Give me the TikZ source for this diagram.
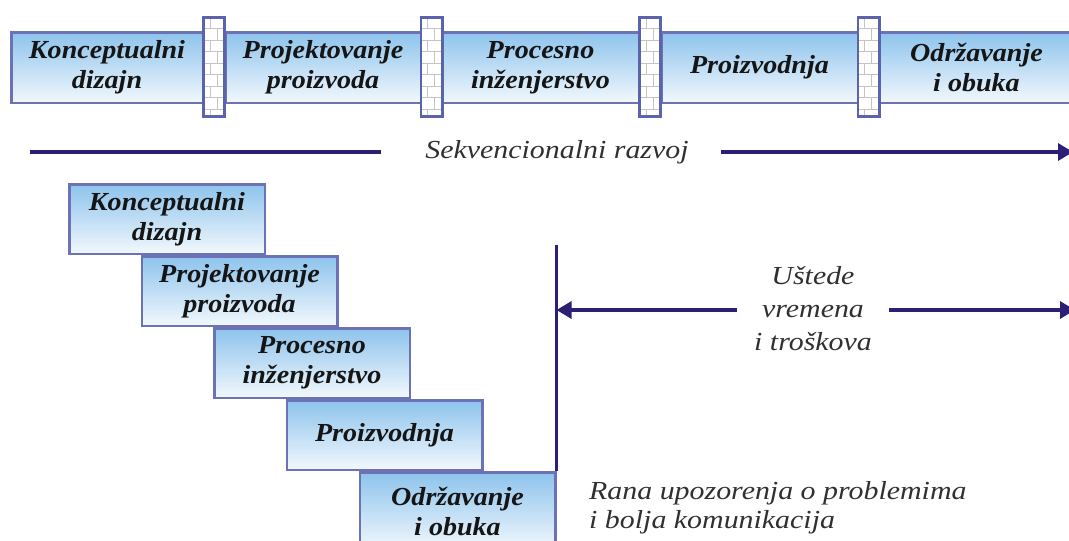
\documentclass[tikz,border=0pt]{standalone}
\usepackage{fontspec}
\setmainfont{Liberation Serif}
\newfontfamily\stagefont[FakeStretch=1.08]{Liberation Serif}
\newfontfamily\notefont[FakeStretch=1.15]{Liberation Serif}
\usetikzlibrary{arrows.meta}

\definecolor{navy}{HTML}{2D1F75}
\definecolor{frame}{HTML}{6C72B6}
\definecolor{skytop}{HTML}{8DC3EC}
\definecolor{skybot}{HTML}{F2F8FD}
\definecolor{brickline}{HTML}{C4C4C4}
\definecolor{brickframe}{HTML}{5B63AC}
\definecolor{ink}{HTML}{151515}
\definecolor{noteink}{HTML}{303030}

\tikzset{
  stage/.style={draw=frame, line width=2.5pt, top color=skytop, bottom color=skybot,
    inner sep=0pt, align=center, text=ink,
    font=\stagefont\bfseries\itshape\fontsize{26}{30}\selectfont},
  note/.style={inner sep=0pt, text=noteink,
    font=\notefont\itshape\fontsize{26}{31}\selectfont},
  navyline/.style={draw=navy, line width=3.2pt},
  tip/.style={-{Triangle[length=15pt,width=17pt]}},
  brick/.style={draw=brickframe, line width=2.6pt, fill=white, inner sep=0pt,
    minimum width=21.4pt, minimum height=99.4pt,
    path picture={
      \foreach \k in {1,...,8}{
        \draw[brickline, line width=0.9pt]
          ([yshift=-\k*11.5pt]path picture bounding box.north west) -- ++(40pt,0);
      }
      \foreach \k in {0,...,8}{
        \pgfmathsetmacro{\off}{mod(\k,2)==0 ? 7 : 14}
        \draw[brickline, line width=0.9pt]
          ([xshift=\off pt, yshift=-\k*11.5pt]path picture bounding box.north west) -- ++(0,11.5);
      }
    }},
}

\begin{document}
\begin{tikzpicture}[x=1pt,y=-1pt]
\useasboundingbox (0,0) rectangle (1069,541);

% sequential chain of stages
\node[stage, minimum width=191.5pt, minimum height=70.5pt] (s1) at (107,67.5) {Konceptualni\\dizajn};
\node[stage, minimum width=195.5pt, minimum height=70.5pt] (s2) at (323,67.5) {Projektovanje\\proizvoda};
\node[stage, minimum width=196.5pt, minimum height=70.5pt] (s3) at (540.5,67.5) {Procesno\\inženjerstvo};
\node[stage, minimum width=196.5pt, minimum height=70.5pt] (s4) at (759.5,67.5) {Proizvodnja};
\node[stage, minimum width=194.5pt, minimum height=70.5pt] (s5) at (976.5,67.5) {Održavanje\\i obuka};

% walls between stages
\node[brick] (w1) at (214,67) {};
\node[brick] (w2) at (431.5,67) {};
\node[brick] (w3) at (650,67) {};
\node[brick] (w4) at (868.5,67) {};

% sequential development arrow
\node[note] (seq) at (557,152) {Sekvencionalni razvoj};
\coordinate (seqL) at (30,152);
\coordinate (seqR) at (1073,152);
\draw[navyline, shorten >=44pt] (seqL) -- (seq.west);
\draw[navyline, tip, shorten <=32pt] (seq.east) -- (seqR);

% overlapping (concurrent) stages
\node[stage, minimum width=195.5pt, minimum height=69.5pt] (c1) at (167,219) {Konceptualni\\dizajn};
\node[stage, minimum width=195.5pt, minimum height=69.5pt] (c2) at (239.5,291) {Projektovanje\\proizvoda};
\node[stage, minimum width=195.5pt, minimum height=69.5pt] (c3) at (312,363) {Procesno\\inženjerstvo};
\node[stage, minimum width=195.5pt, minimum height=69.5pt] (c4) at (384.5,435) {Proizvodnja};
\node[stage, minimum width=195.5pt, minimum height=77.5pt] (c5) at (457.5,511) {Održavanje\\i obuka};

% end of concurrent development
\coordinate (vtop) at (556.5,245);
\draw[navyline] (vtop) -- (c5.north east);

% savings arrows
\node[note, align=center, inner xsep=17pt, font=\notefont\itshape\fontsize{26}{33}\selectfont] (save) at (813,309) {Uštede\\vremena\\i troškova};
\coordinate (saveR) at (1075,310);
\draw[navyline, tip] (save.west |- saveR) -- (vtop |- saveR);
\draw[navyline, tip] (save.east |- saveR) -- (saveR);

% benefits note
\node[note, align=left, anchor=west, font=\notefont\itshape\fontsize{26}{29}\selectfont] (early) at (589,508)
  {Rana upozorenja o problemima\\i bolja komunikacija};
\end{tikzpicture}
\end{document}
